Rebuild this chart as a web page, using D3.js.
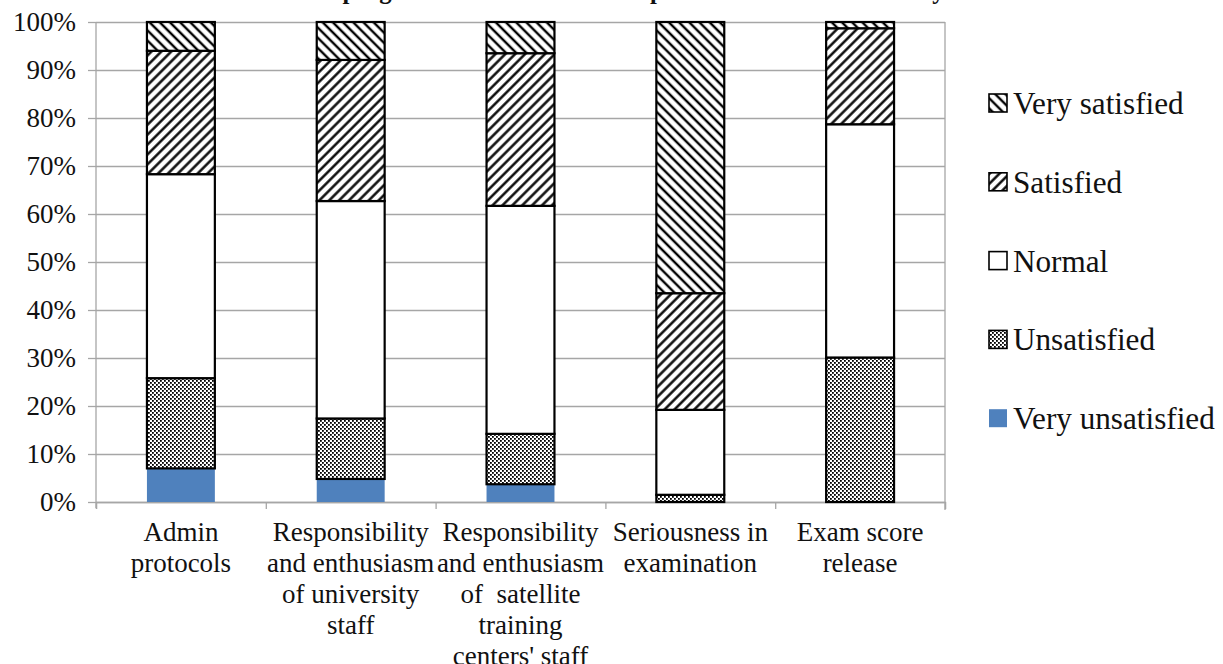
<!DOCTYPE html>
<html><head><meta charset="utf-8">
<script src="https://cdn.jsdelivr.net/npm/d3@7"></script>
<style>
body{margin:0;background:#fff}
svg{display:block}
svg text, svg tspan{font-family:'Liberation Serif', Tinos, 'Times New Roman' !important}
</style>
</head><body>
<svg id="c" width="1223" height="664" font-family="'Liberation Serif'"></svg>
<script>
// ---- data ----
const titleText = "The program administration and procedures of the university";
const categories = [
  "Admin\nprotocols",
  "Responsibility\nand enthusiasm\nof university\nstaff",
  "Responsibility\nand enthusiasm\nof  satellite\ntraining\ncenters' staff",
  "Seriousness in\nexamination",
  "Exam score\nrelease"
];
const seriesNames = ["Very unsatisfied", "Unsatisfied", "Normal", "Satisfied", "Very satisfied"];
const veryUnsatisfied = [7.0, 4.8, 3.7, 0, 0];
const unsatisfied     = [18.8, 12.6, 10.5, 1.5, 30.1];
const normal          = [42.5, 45.3, 47.5, 17.7, 48.6];
const satisfied       = [25.7, 29.4, 31.8, 24.3, 20.0];
const verySatisfied   = [6.0, 7.9, 6.5, 56.5, 1.3];
const yTickValues = [0, 10, 20, 30, 40, 50, 60, 70, 80, 90, 100];
const yTickLabels = ["0%", "10%", "20%", "30%", "40%", "50%", "60%", "70%", "80%", "90%", "100%"];

const FAM = "'Liberation Serif', Tinos, 'Times New Roman'";
const TXT = "#111";
const serifText = sel => sel.attr("font-family", FAM).style("font-family", FAM, "important");

// ---- build table ----
const seriesValues = [veryUnsatisfied, unsatisfied, normal, satisfied, verySatisfied];
const table = categories.map((c, i) => {
  const row = {cat: c};
  seriesNames.forEach((s, j) => row[s] = seriesValues[j][i]);
  return row;
});

const svg = d3.select("#c");
const m = {left: 96, right: 945, top: 22, bottom: 502};

// patterns
const defs = svg.append("defs");
function stripe(id, angle, gap, sw) {
  const p = defs.append("pattern").attr("id", id).attr("patternUnits", "userSpaceOnUse")
    .attr("width", gap).attr("height", gap).attr("patternTransform", `rotate(${angle})`);
  p.append("rect").attr("width", gap).attr("height", gap).attr("fill", "#fff");
  p.append("line").attr("x1", gap/2).attr("x2", gap/2).attr("y1", 0).attr("y2", gap)
    .attr("stroke", "#000").attr("stroke-width", sw);
}
stripe("pVS", -45, 7.2, 2.4);
stripe("pS", 45, 7.0, 2.4);
const dp = defs.append("pattern").attr("id", "pU").attr("patternUnits", "userSpaceOnUse")
  .attr("width", 4).attr("height", 4);
dp.append("rect").attr("width", 4).attr("height", 4).attr("fill", "#fff");
dp.append("rect").attr("x", 0).attr("y", 0).attr("width", 1.8).attr("height", 1.8).attr("fill", "#000");
dp.append("rect").attr("x", 2).attr("y", 2).attr("width", 1.8).attr("height", 1.8).attr("fill", "#000");

const fills = {
  "Very unsatisfied": "#4F81BD",
  "Unsatisfied": "url(#pU)",
  "Normal": "#fff",
  "Satisfied": "url(#pS)",
  "Very satisfied": "url(#pVS)"
};

// scales
const x = d3.scaleBand().domain(categories).range([m.left, m.right]).paddingInner(0.6).paddingOuter(0.3);
const xb = d3.scaleLinear().domain([0, categories.length]).range([m.left, m.right]);
const y = d3.scaleLinear().domain([0, 100]).range([m.bottom, m.top]);

// gridlines
svg.append("g").attr("transform", `translate(${m.left},0)`)
  .call(d3.axisLeft(y).tickValues(yTickValues).tickSize(-(m.right - m.left)).tickFormat(""))
  .call(g => g.select(".domain").remove())
  .call(g => g.selectAll("line").attr("stroke", "#a6a6a6").attr("stroke-width", 1.3));
// right border
svg.append("line").attr("x1", m.right).attr("x2", m.right).attr("y1", y(100)).attr("y2", y(0) + 8)
  .attr("stroke", "#a6a6a6").attr("stroke-width", 1.3);

// y axis
const ya = svg.append("g").attr("transform", `translate(${m.left},0)`)
  .call(d3.axisLeft(y).tickValues(yTickValues).tickSize(8).tickPadding(12)
    .tickFormat((d, i) => yTickLabels[i]));
serifText(ya).attr("font-size", 27);
ya.select(".domain").attr("stroke", "#a6a6a6").attr("stroke-width", 1.3).attr("d", `M0,${y(100)}V${y(0) + 6}`);
ya.selectAll("line").attr("stroke", "#a6a6a6").attr("stroke-width", 1.3);
serifText(ya.selectAll("text")).attr("font-size", 27).attr("fill", TXT).attr("dy", "0.33em");

// x axis (boundary ticks)
const xa = svg.append("g").attr("transform", `translate(0,${m.bottom})`)
  .call(d3.axisBottom(xb).tickValues(d3.range(categories.length + 1)).tickSize(7).tickFormat(""));
xa.select(".domain").attr("stroke", "#a6a6a6").attr("stroke-width", 1.3);
xa.selectAll("line").attr("stroke", "#a6a6a6").attr("stroke-width", 1.3);

// bars
const stack = d3.stack().keys(seriesNames)(table);
stack.forEach(layer => {
  const key = layer.key;
  svg.append("g").selectAll("rect").data(layer).join("rect")
    .attr("x", d => x(d.data.cat))
    .attr("width", x.bandwidth())
    .attr("y", d => y(d[1]))
    .attr("height", d => y(d[0]) - y(d[1]))
    .attr("fill", fills[key])
    .attr("stroke", key === "Very unsatisfied" ? "none" : "#000")
    .attr("stroke-width", 2.2)
    .style("display", d => (d[1] - d[0]) > 0 ? null : "none");
});

// x labels
categories.forEach(c => {
  const t = serifText(svg.append("text")).attr("text-anchor", "middle").attr("font-size", 27)
    .attr("fill", TXT).attr("xml:space", "preserve");
  c.split("\n").forEach((line, i) => {
    t.append("tspan").attr("x", x(c) + x.bandwidth() / 2).attr("y", 541 + i * 31).text(line);
  });
});

// legend
const legendOrder = seriesNames.slice().reverse();
const lg = svg.append("g");
legendOrder.forEach((s, i) => {
  const cy = 103 + i * 78.8;
  const isBlue = s === "Very unsatisfied";
  const size = 18;
  lg.append("rect").attr("x", 989).attr("y", cy - size / 2).attr("width", size).attr("height", size)
    .attr("fill", fills[s]).attr("stroke", isBlue ? "none" : "#000").attr("stroke-width", 1.6);
  serifText(lg.append("text")).attr("x", 1013).attr("y", cy).attr("dy", "0.35em")
    .attr("font-size", 31.2).attr("fill", TXT).text(s);
});

// title (mostly cropped above the picture, as in the reference)
const tt = serifText(svg.append("text")).attr("text-anchor", "middle").attr("x", 620).attr("y", -1)
  .attr("font-size", 28).attr("font-weight", "bold").attr("fill", TXT).text(titleText);
const L = tt.node().getComputedTextLength();
tt.attr("font-size", 28 * 650 / L);
</script>
</body></html>
